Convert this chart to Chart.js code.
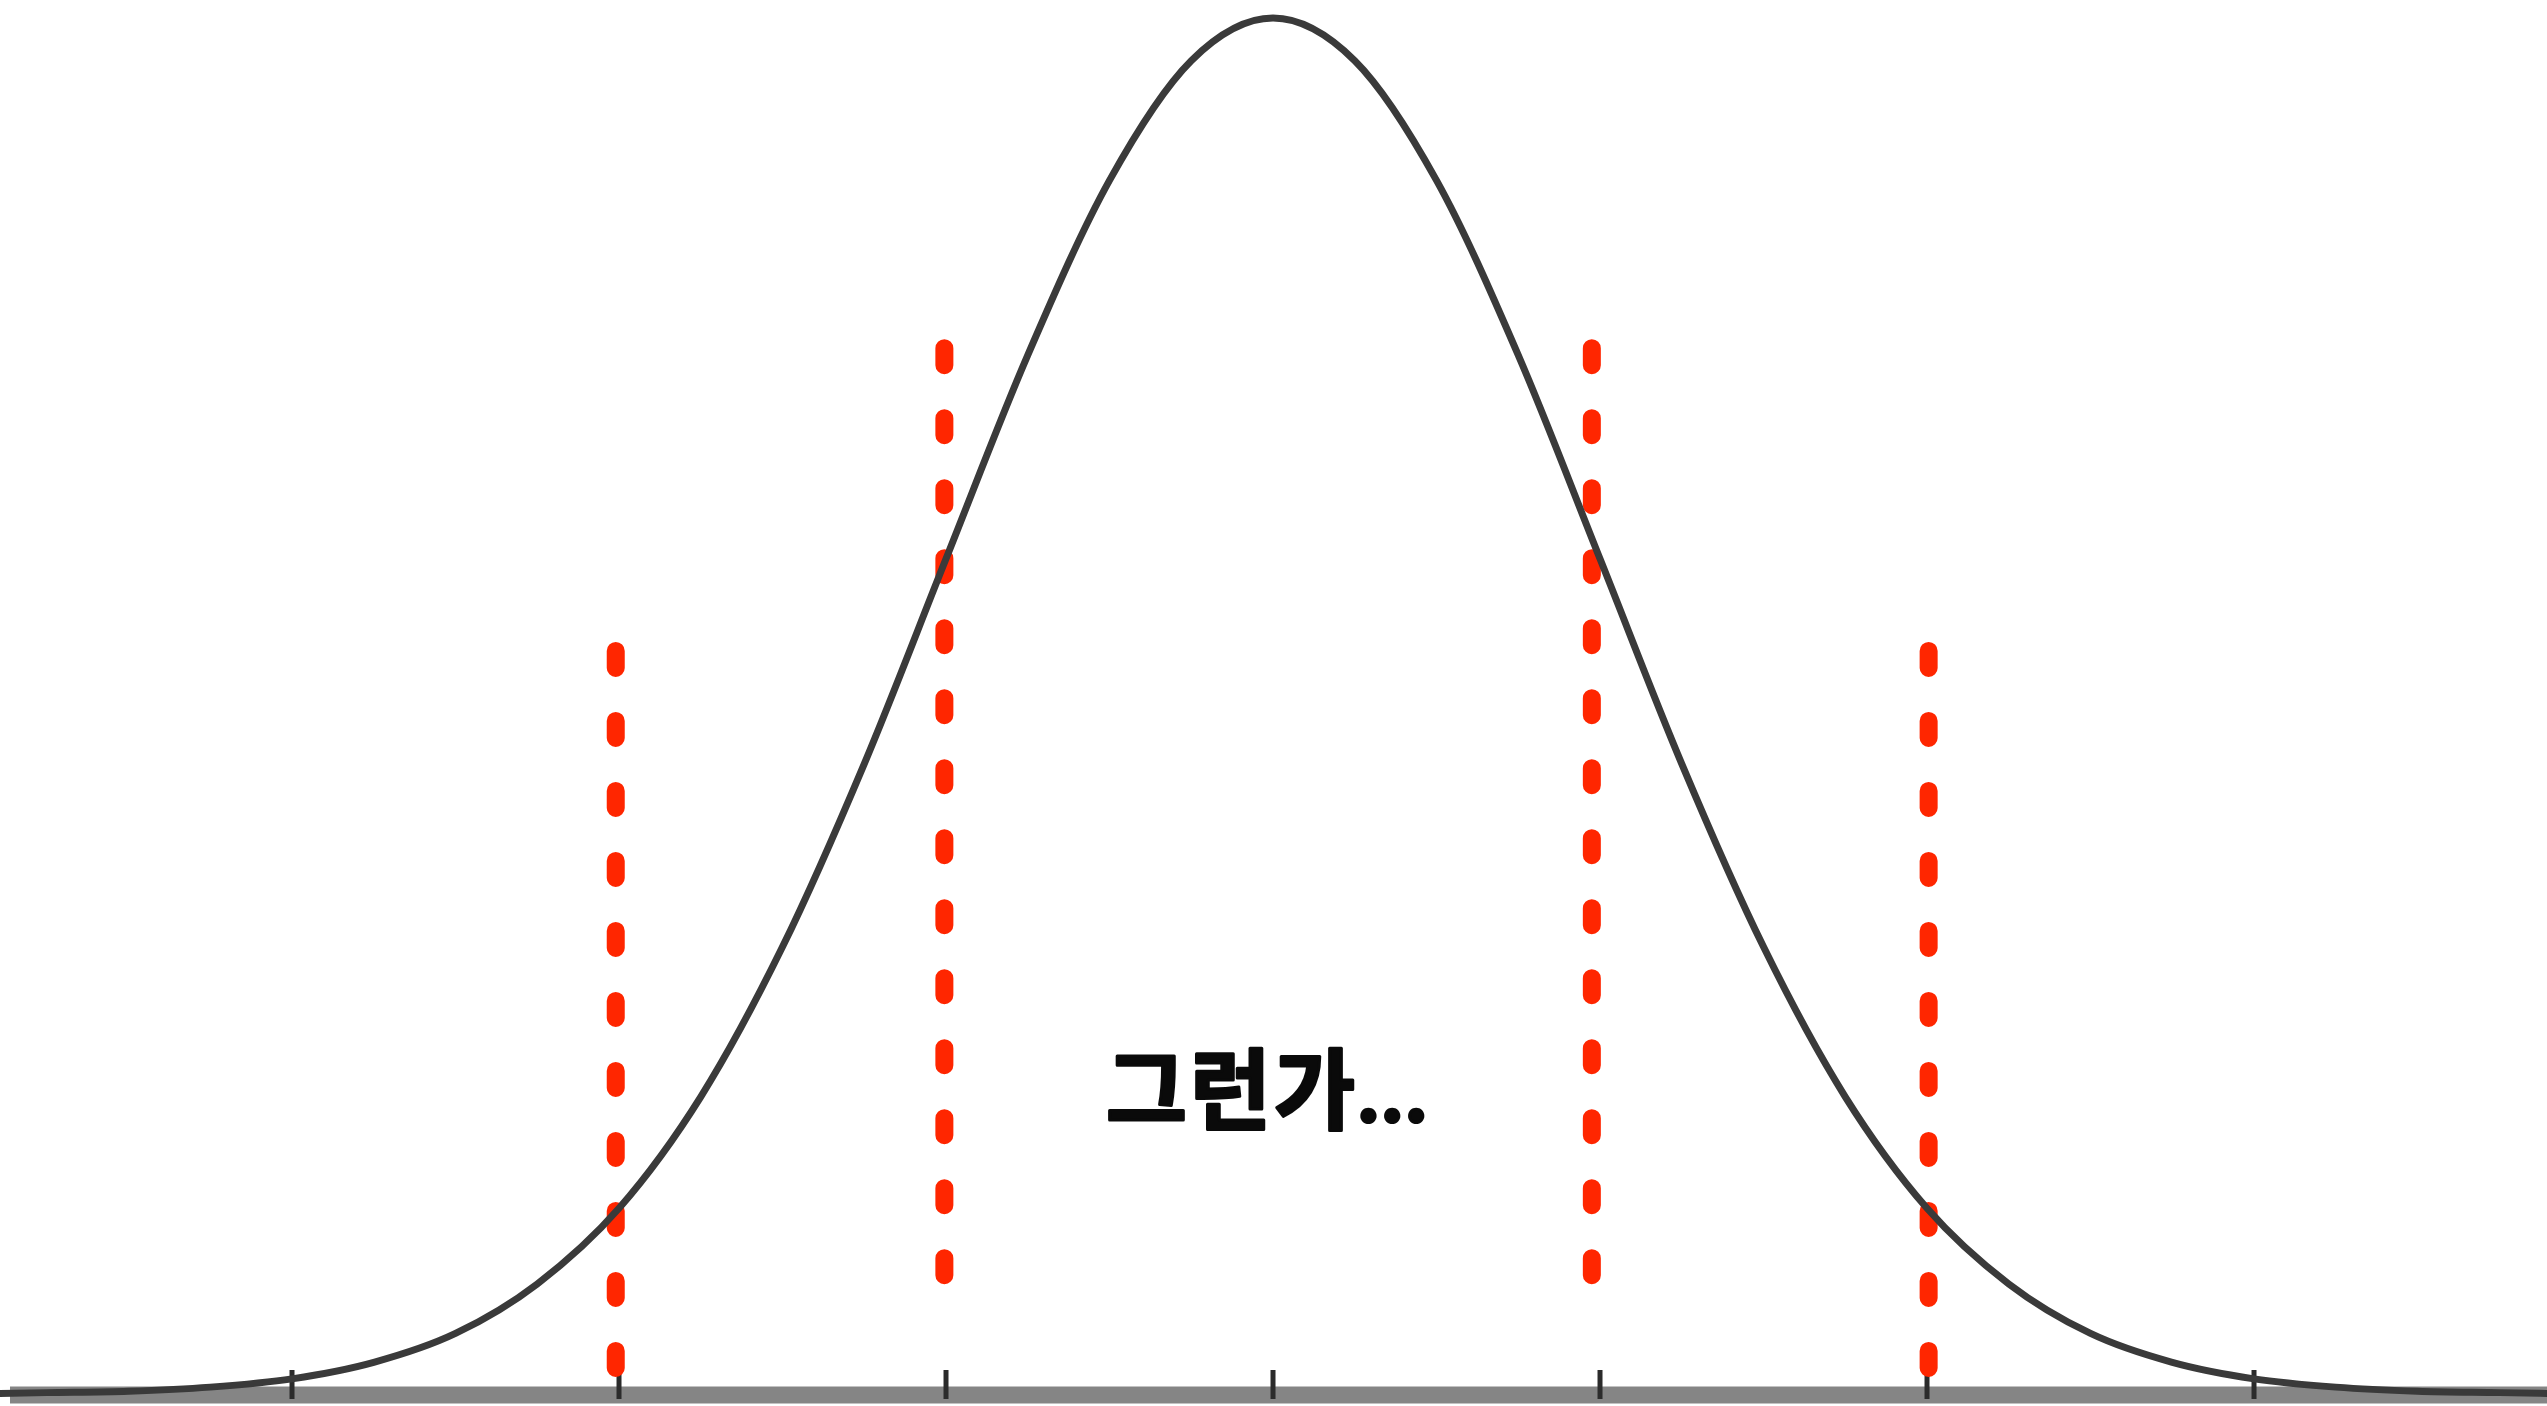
<!DOCTYPE html>
<html>
<head>
<meta charset="utf-8">
<script src="https://cdn.jsdelivr.net/npm/chart.js@4"></script>
<style>
  html, body { margin: 0; padding: 0; background: #ffffff; }
  #wrap { width: 2547px; height: 1406px; }
</style>
</head>
<body>
<div id="wrap"><canvas id="c" width="2547" height="1406"></canvas></div>
<script>
// ---- data (x in standard deviations, y as % of peak height) ----
const curveX = [-4.0, -3.75, -3.5, -3.25, -3.0, -2.75, -2.5, -2.25, -2.0, -1.75, -1.5, -1.25, -1.0, -0.75, -0.5, -0.25,
                0.0, 0.25, 0.5, 0.75, 1.0, 1.25, 1.5, 1.75, 2.0, 2.25, 2.5, 2.75, 3.0, 3.25, 3.5, 3.75, 4.0];
const curveY = [0.0, 0.1, 0.2, 0.5, 1.1, 2.3, 4.4, 8.0, 13.5, 21.6, 32.5, 45.8, 60.7, 75.5, 88.2, 96.9,
                100.0, 96.9, 88.2, 75.5, 60.7, 45.8, 32.5, 21.6, 13.5, 8.0, 4.4, 2.3, 1.1, 0.5, 0.2, 0.1, 0.0];
const markerX = [-2.01, -1.005, 0.975, 2.005];
const markerTop = [54.0, 76.0, 76.0, 54.0];
const markerBottom = [0.0, 8.0, 8.0, 0.0];
const tickValues = [-3, -2, -1, 0, 1, 2, 3];
const captionText = '그런가...';

// ---- build datasets ----
const curvePoints = curveX.map((x, i) => ({ x: x, y: curveY[i] }));
const datasets = [{
  label: 'curve',
  data: curvePoints,
  borderColor: '#3a3a3a',
  borderWidth: 7,
  pointRadius: 0,
  fill: false,
  cubicInterpolationMode: 'monotone'
}];
markerX.forEach((mx, i) => {
  datasets.push({
    label: 'marker' + i,
    data: [{ x: mx, y: markerTop[i] }, { x: mx, y: markerBottom[i] }],
    borderColor: '#ff2600',
    borderWidth: 18,
    borderDash: [17, 53],
    borderCapStyle: 'round',
    pointRadius: 0,
    fill: false
  });
});

const decorPlugin = {
  id: 'decor',
  beforeDatasetsDraw(chart) {
    const { ctx, chartArea, scales } = chart;
    const xs = scales.x, ys = scales.y;
    const y0 = ys.getPixelForValue(0) + 1;
    ctx.save();
    ctx.strokeStyle = '#858585';
    ctx.lineWidth = 17;
    ctx.beginPath();
    ctx.moveTo(chartArea.left + 10, y0);
    ctx.lineTo(chartArea.right, y0);
    ctx.stroke();
    ctx.strokeStyle = '#2b2b2b';
    ctx.lineWidth = 5;
    tickValues.forEach(v => {
      const px = xs.getPixelForValue(v);
      ctx.beginPath();
      ctx.moveTo(px, y0 - 25);
      ctx.lineTo(px, y0 + 4);
      ctx.stroke();
    });
    ctx.restore();
  },
  afterDatasetsDraw(chart) {
    const { ctx } = chart;
    ctx.save();
    ctx.fillStyle = '#0a0a0a';
    ctx.strokeStyle = '#0a0a0a';
    ctx.lineWidth = 3;
    ctx.lineJoin = 'round';
    ctx.font = '700 88px Lato, "Noto Sans CJK KR", sans-serif';
    if ('letterSpacing' in ctx) ctx.letterSpacing = '3px';
    ctx.textAlign = 'left';
    ctx.textBaseline = 'alphabetic';
    ctx.fillText(captionText, 1106, 1122);
    ctx.strokeText(captionText, 1106, 1122);
    ctx.restore();
  }
};

new Chart(document.getElementById('c'), {
  type: 'line',
  data: { datasets: datasets },
  options: {
    responsive: false,
    devicePixelRatio: 1,
    animation: false,
    layout: { padding: 0 },
    plugins: { legend: { display: false }, tooltip: { enabled: false }, title: { display: false } },
    scales: {
      x: { type: 'linear', min: -3.893, max: 3.896, display: false },
      y: { type: 'linear', min: -0.872, max: 101.308, display: false }
    }
  },
  plugins: [decorPlugin]
});
</script>
</body>
</html>
